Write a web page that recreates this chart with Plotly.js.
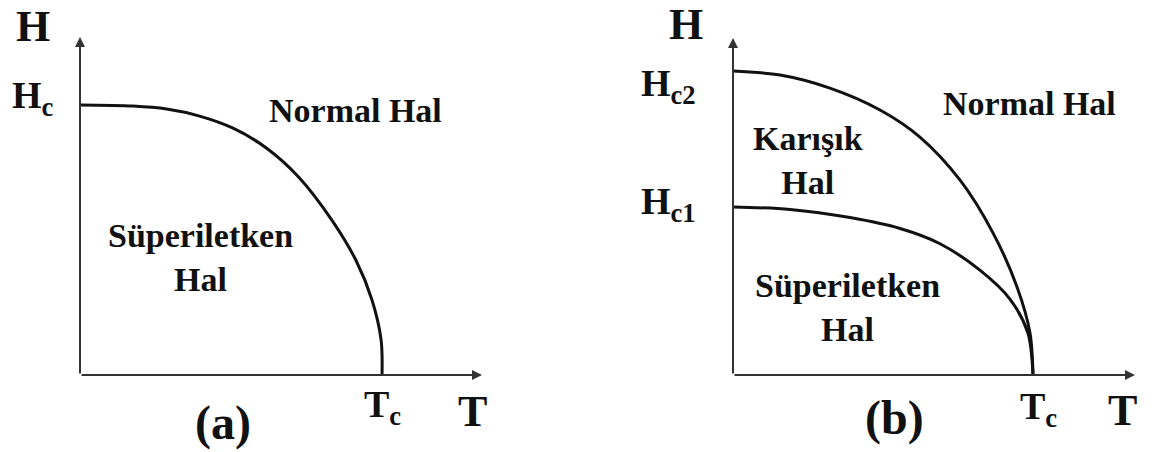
<!DOCTYPE html>
<html>
<head>
<meta charset="utf-8">
<script src="https://cdn.plot.ly/plotly-3.0.1.min.js"></script>
<style>
  html, body { margin: 0; padding: 0; background: #fff; }
  #phaseGraph { width: 1157px; height: 452px; }
</style>
</head>
<body>
<div id="phaseGraph"></div>
<script>
// (a) type I superconductor: T / Tc and H / Hc
const tA = [0, 0.175, 0.287, 0.396, 0.505, 0.617, 0.726, 0.835, 0.914, 0.967, 0.997, 1.0];
const hcA = [1.0, 0.996, 0.985, 0.959, 0.915, 0.841, 0.731, 0.572, 0.424, 0.277, 0.129, 0];

// (b) type II superconductor: T / Tc, Hc2 / Hc2(0) and Hc1 on the same scale
const tB2 = [0, 0.157, 0.323, 0.49, 0.623, 0.757, 0.867, 0.947, 0.99, 1.0];
const hc2B = [1.0, 0.987, 0.944, 0.872, 0.783, 0.641, 0.467, 0.289, 0.138, 0];
const tB1 = [0, 0.19, 0.39, 0.557, 0.69, 0.823, 0.923, 0.983, 1.0];
const hc1B = [0.553, 0.545, 0.518, 0.482, 0.432, 0.345, 0.25, 0.138, 0];

const serif = 'Liberation Serif, Times New Roman, serif';
const inkColor = '#111';
const axisColor = '#333';

function curve(x, y, xa, ya) {
    return {
        x: x,
        y: y,
        xaxis: xa,
        yaxis: ya,
        type: 'scatter',
        mode: 'lines',
        cliponaxis: false,
        hoverinfo: 'skip',
        line: { color: inkColor, width: 3, shape: 'spline', smoothing: 0.9 }
    };
}

//an arrow drawn from the origin to the end of an axis
function axisArrow(xr, yr, x, y) {
    return {
        xref: xr, yref: yr, axref: xr, ayref: yr,
        x: x, y: y, ax: 0, ay: 0,
        text: '', showarrow: true,
        arrowhead: 2, arrowsize: 1, arrowwidth: 2, arrowcolor: axisColor
    };
}

function label(xr, yr, x, y, text, size) {
    return {
        xref: xr, yref: yr, x: x, y: y,
        text: text, showarrow: false,
        xanchor: 'center', yanchor: 'middle',
        font: { family: serif, size: size, color: inkColor, weight: 'bold' }
    };
}

let graphData = [
    curve(tA, hcA, 'x', 'y'),
    curve(tB2, hc2B, 'x2', 'y2'),
    curve(tB1, hc1B, 'x2', 'y2')
];

let hidden = {
    showgrid: false, zeroline: false, showline: false,
    showticklabels: false, ticks: '', fixedrange: true
};

let annotations = [
    axisArrow('x', 'y', 1.331, 0),
    axisArrow('x', 'y', 0, 1.252),
    axisArrow('x2', 'y2', 1.34, 0),
    axisArrow('x2', 'y2', 0, 1.109),

    //labels outside the plot boxes sit on the paper
    label('paper', 'paper', 0.0285, 0.9403, 'H', 44),
    label('paper', 'paper', 0.0285, 0.7832, 'H<sub>c</sub>', 38),
    label('paper', 'paper', 0.1927, 0.0642, '(a)', 48),
    label('paper', 'paper', 0.3310, 0.0996, 'T<sub>c</sub>', 38),
    label('paper', 'paper', 0.4088, 0.0885, 'T', 44),
    label('x', 'y', 0.911, 0.981, 'Normal Hal', 34),
    label('x', 'y', 0.40, 0.437, 'Süperiletken<br>Hal', 34),

    label('paper', 'paper', 0.5929, 0.9469, 'H', 44),
    label('paper', 'paper', 0.5774, 0.8097, 'H<sub>c2</sub>', 38),
    label('paper', 'paper', 0.5774, 0.5487, 'H<sub>c1</sub>', 38),
    label('paper', 'paper', 0.7727, 0.0752, '(b)', 48),
    label('paper', 'paper', 0.8980, 0.0951, 'T<sub>c</sub>', 38),
    label('paper', 'paper', 0.9706, 0.0929, 'T', 44),
    label('x2', 'y2', 0.987, 0.895, 'Normal Hal', 34),
    label('x2', 'y2', 0.25, 0.707, 'Karışık<br>Hal', 34),
    label('x2', 'y2', 0.38, 0.222, 'Süperiletken<br>Hal', 34)
];

let layout = {
    width: 1157,
    height: 452,
    margin: { l: 0, r: 0, t: 0, b: 0 },
    paper_bgcolor: '#fff',
    plot_bgcolor: 'rgba(0,0,0,0)',
    showlegend: false,
    xaxis: Object.assign({ domain: [0.06914, 0.41660], range: [0, 1.331], anchor: 'y' }, hidden),
    yaxis: Object.assign({ domain: [0.170354, 0.918142], range: [0, 1.252], anchor: 'x' }, hidden),
    xaxis2: Object.assign({ domain: [0.63354, 0.98099], range: [0, 1.34], anchor: 'y2' }, hidden),
    yaxis2: Object.assign({ domain: [0.170354, 0.915929], range: [0, 1.109], anchor: 'x2' }, hidden),
    annotations: annotations
};

let options = {
    responsive: false,
    displayModeBar: false,
    staticPlot: true
};

Plotly.newPlot('phaseGraph', graphData, layout, options);
</script>
</body>
</html>
